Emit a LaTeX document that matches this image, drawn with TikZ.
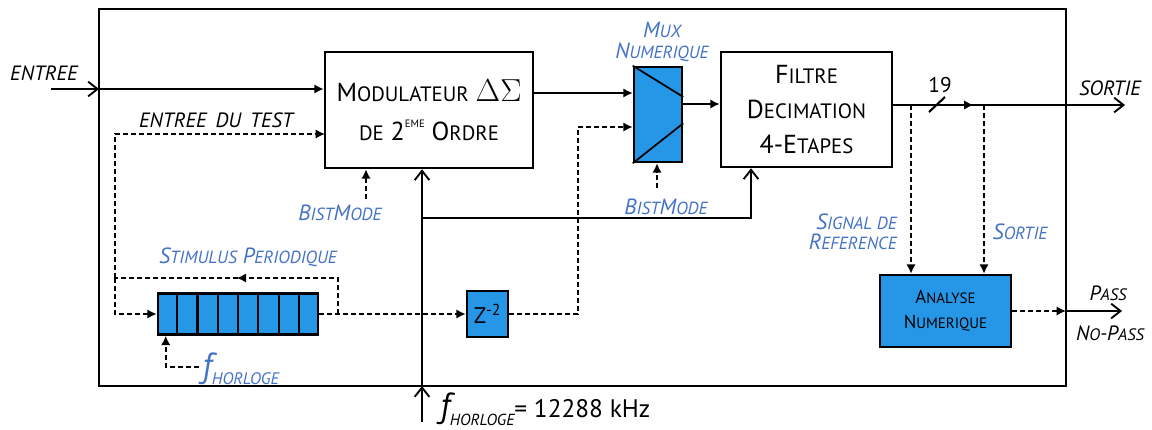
\documentclass[tikz,border=0pt]{standalone}
\usepackage{fontspec}
\setmainfont{PT Sans}
\usetikzlibrary{arrows.meta,calc,decorations.markings}
\definecolor{lblue}{RGB}{68,114,196}
\definecolor{bfill}{RGB}{38,150,230}
\newcommand\SC[2]{#1\scalebox{0.8}{#2}}
\newcommand\fsz[1]{\fontsize{#1}{#1}\selectfont}
\tikzset{
  frameline/.style={line width=2.2pt},
  blk/.style={draw, line width=1.9pt, inner sep=0pt, align=center},
  bblk/.style={blk, fill=bfill},
  sig/.style={line width=1.6pt},
  dsh/.style={line width=1.6pt, dash pattern=on 3.6pt off 2.4pt},
  thinl/.style={line width=1pt},
  filtip/.tip={Latex[length=7pt,width=7pt]},
  chevtip/.tip={Straight Barb[length=7pt,width=11pt,line width=1.4pt]},
  lbl/.style={font=\fsz{15.5}\itshape, inner sep=0pt},
  blbl/.style={text=lblue, font=\fontsize{16.5}{17}\selectfont\itshape, inner sep=0pt, align=center},
  midarrow/.style={postaction={decorate}, decoration={markings, mark=at position #1 with {\arrow{filtip}}}}
}
\begin{document}
\begin{tikzpicture}[x=0.75pt,y=-0.75pt]
\useasboundingbox (0,0) rectangle (1152,429);
% frame
\coordinate (fTL) at (99,9);
\coordinate (fBR) at (1066,386);
\draw[frameline] (fTL) rectangle (fBR);

% blocks
\node[blk, minimum width=156pt, minimum height=87pt, font=\fontsize{19.5}{29}\selectfont] (mod) at (429,110)
  {\SC{M}{ODULATEUR} \scalebox{1.15}{$\Delta\Sigma$}\\\scalebox{0.8}{DE} 2\raisebox{0.5em}{\fsz{8}EME} \SC{O}{RDRE}};
\node[bblk, minimum width=36pt, minimum height=71.25pt] (mux) at (658,114.5) {};
\draw[line width=1.3pt] (mux.north west) -- ($(mux.north east)!0.32!(mux.south east)$);
\draw[line width=1.3pt] (mux.south west) -- ($(mux.north east)!0.59!(mux.south east)$);
\node[blk, minimum width=128.25pt, minimum height=86.25pt, font=\fontsize{19.5}{26}\selectfont] (filt) at (806.5,109.5)
  {\SC{F}{ILTRE}\\\SC{D}{ECIMATION}\\4-\SC{E}{TAPES}};
\node[bblk, minimum width=98.25pt, minimum height=54pt, font=\fontsize{14}{19}\selectfont] (ana) at (945.5,311)
  {\SC{A}{NALYSE}\\\SC{N}{UMERIQUE}};
\node[bblk, minimum width=120pt, minimum height=30.75pt] (reg) at (238,314) {};
\foreach \i in {1,...,7}
  \draw[line width=1.7pt] ($(reg.north west)!\i/8!(reg.north east)$) -- ($(reg.south west)!\i/8!(reg.south east)$);
\node[bblk, minimum width=30.75pt, minimum height=34.5pt, font=\fsz{17}] (zb) at (487.5,314) {Z\textsuperscript{-2}};

% labels
\node[lbl] (lent) at (44,73) {ENTREE};
\node[lbl] (ltest) at (216,120) {ENTREE\, DU\, TEST};
\node[blbl, font=\fontsize{16.5}{16}\selectfont\itshape] (lmux) at (662,42) {\SC{M}{UX}\\\SC{N}{UMERIQUE}};
\node[font=\fsz{16}, inner sep=0pt] (l19) at (940,85) {19};
\node[lbl] (lsortie) at (1110,88) {SORTIE};
\node[blbl, anchor=east, align=right, font=\fontsize{16.5}{15}\selectfont\itshape] (lref) at (897,232) {\SC{S}{IGNAL DE}\\\SC{R}{EFERENCE}};
\node[blbl] (lsort2) at (1020,232) {\SC{S}{ORTIE}};
\node[blbl] (lstim) at (248,257) {\SC{S}{TIMULUS} \SC{P}{ERIODIQUE}};
\node[blbl] (lbm1) at (340,213) {\SC{B}{IST}\SC{M}{ODE}};
\node[blbl] (lbm2) at (666,207) {\SC{B}{IST}\SC{M}{ODE}};
\node[lbl] (lpass) at (1108,293) {\SC{P}{ASS}};
\node[lbl] (lnopass) at (1110,333) {\SC{N}{O}-\SC{P}{ASS}};
\node[text=lblue, anchor=west, inner sep=0pt] (lfh) at (202,369)
  {{\fsz{26}\itshape f}{\fsz{12.5}\itshape\raisebox{-5pt}{HORLOGE}}};
\node[anchor=west, inner sep=0pt] (lclk) at (440,409)
  {{\fsz{26}\itshape f}{\fsz{12}\itshape\raisebox{-6pt}{HORLOGE}}{\fsz{19}= 12288 kHz}};

% main input
\coordinate (ein) at (51,89);
\draw[sig,-chevtip] (ein) -- (ein -| fTL);
\draw[sig,-filtip] (ein -| fTL) -- (ein -| mod.west);

% test input / feedback
\coordinate (fb) at (115,278);
\coordinate (tin) at (325,134);
\coordinate (tap) at (338,314);
\draw[dsh,-filtip] (fb) |- (tin);
\draw[dsh,-filtip] (fb) |- (reg.west);
\draw[dsh,midarrow=0.53] (tap) |- (fb);
\draw[dsh,-filtip] (reg.east) -- (zb.west);
\coordinate (zu) at (578,127);
\draw[dsh,-filtip] (zb.east) -| (zu) -- (zu -| mux.west);

% data path
\coordinate (mo) at (533,93);
\draw[sig,-filtip] (mo) -- (mo -| mux.west);
\coordinate (mxo) at (682,104);
\draw[sig,-filtip] (mxo) -- (mxo -| filt.west);
\coordinate (fo) at (892,105);
\coordinate (sout) at (1125,105);
\draw[sig,-chevtip,midarrow=0.35] (fo) -- (sout);
\draw[sig] (929,112) -- (945,97);
\coordinate (t1) at (911,105);
\coordinate (t2) at (984,105);
\draw[dsh,-filtip] (t1) -- (t1 |- ana.north);
\draw[dsh,-filtip] (t2) -- (t2 |- ana.north);
\coordinate (po) at (1122,311);
\draw[dsh,-filtip] (ana.east) -- (ana.east -| fBR);
\draw[sig,-chevtip] (ana.east -| fBR) -- (po);

% clock
\coordinate (clk) at (422,422);
\draw[thinl,-chevtip] (clk) -- (clk |- fBR);
\draw[thinl,-chevtip] (clk |- fBR) -- (clk |- mod.south);
\coordinate (cj) at (422,218);
\coordinate (fcl) at (751,218);
\draw[thinl,-chevtip] (cj) -- (fcl) -- (fcl |- filt.south);

% bist mode
\coordinate (bm1) at (366,199);
\draw[dsh,-filtip] (bm1) -- (bm1 |- mod.south);
\coordinate (bm2) at (657,188);
\draw[dsh,-filtip] (bm2) -- (bm2 |- mux.south);

% register clock
\coordinate (fh) at (199,367);
\draw[dsh,-filtip] (fh) -| ($(reg.south west)+(9,0)$);
\end{tikzpicture}
\end{document}
